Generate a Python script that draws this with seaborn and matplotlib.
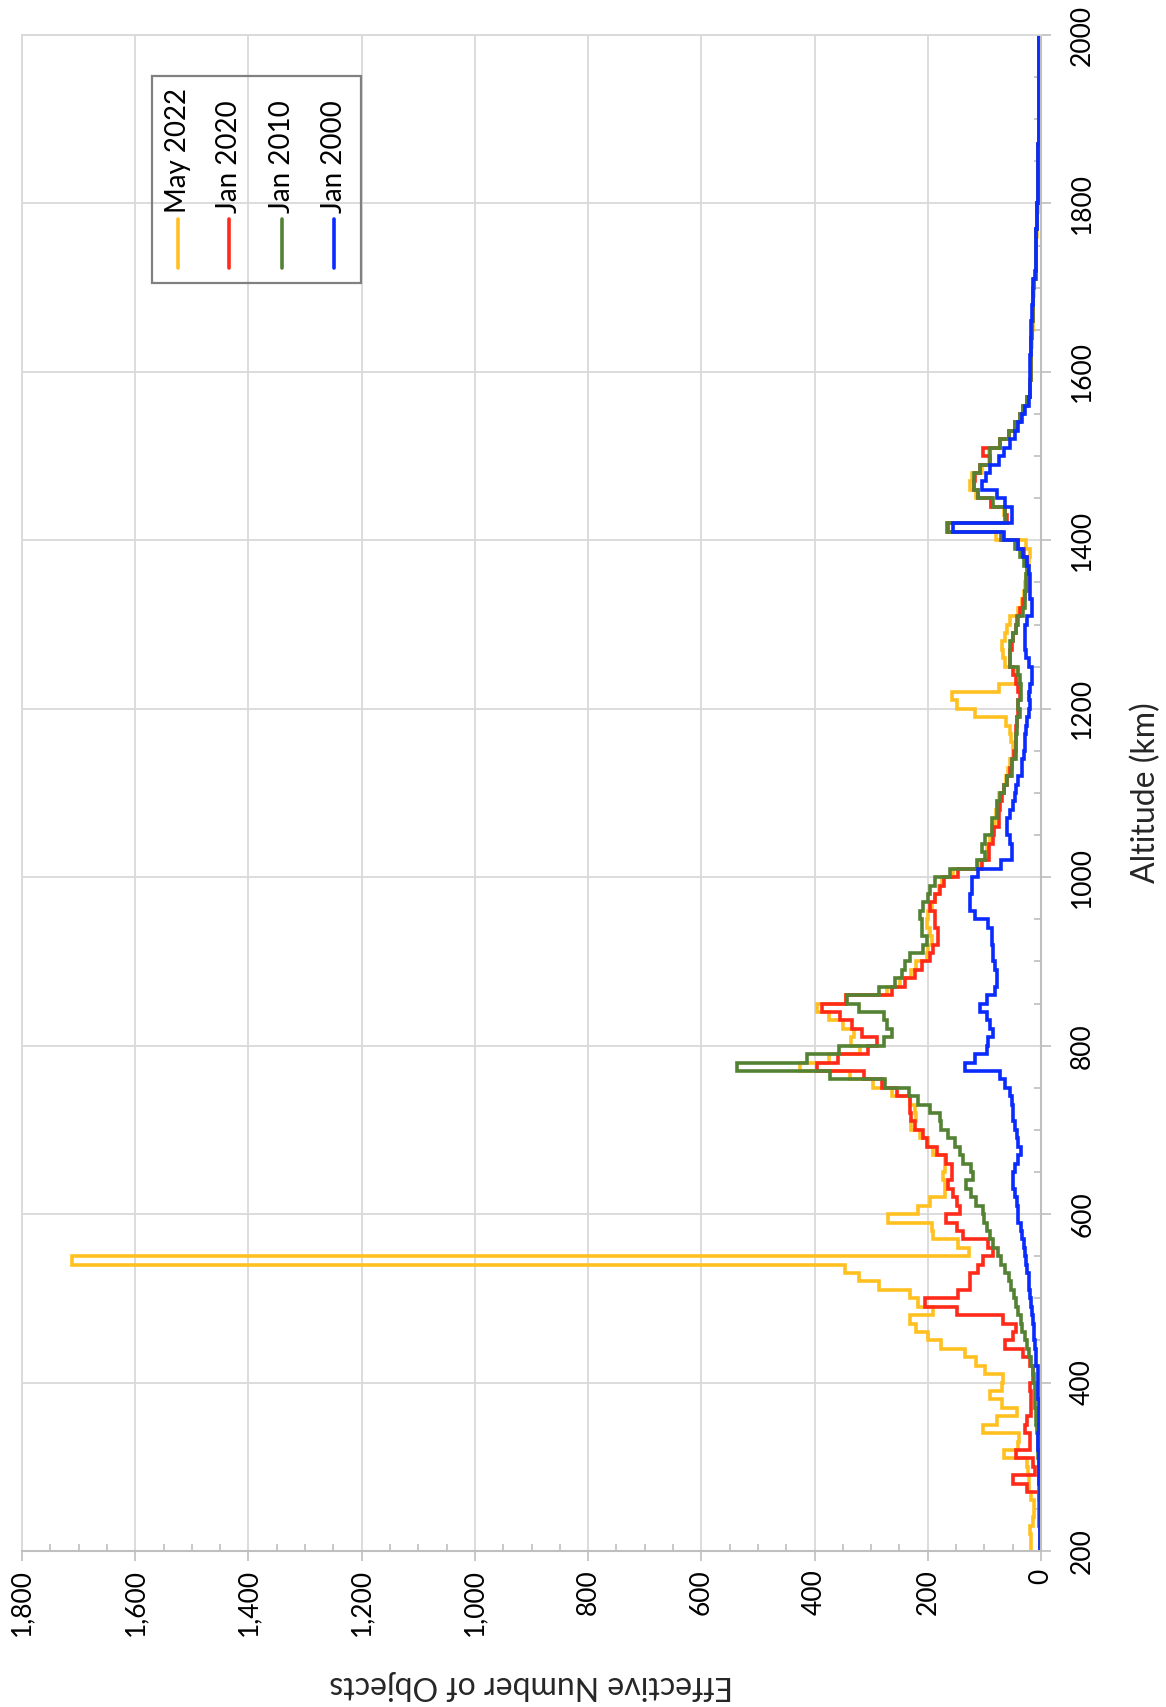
import matplotlib
matplotlib.use("Agg")
import matplotlib.pyplot as plt
import seaborn as sns
from matplotlib.patches import Rectangle
from matplotlib.lines import Line2D
from matplotlib.ticker import FuncFormatter, MultipleLocator

# ---------------- data (10 km altitude bins, 200..1990 km) ----------------
bin_start = list(range(200, 2000, 10))
alt_max = 2000

may_2022 = [
    17, 18, 20, 15, 12, 12, 17, 22, 22, 23,
    24, 65, 40, 38, 103, 78, 43, 69, 90, 69,
    67, 99, 114, 135, 176, 199, 220, 231, 190, 217,
    231, 287, 322, 346, 1712, 128, 146, 190, 193, 270,
    217, 196, 170, 170, 173, 170, 170, 190, 199, 214,
    229, 220, 223, 231, 264, 296, 337, 425, 375, 320,
    335, 330, 350, 375, 395, 345, 272, 249, 229, 220,
    202, 199, 193, 196, 202, 199, 193, 187, 181, 175,
    155, 110, 95, 95, 90, 87, 82, 80, 78, 75,
    66, 62, 58, 54, 50, 50, 53, 55, 62, 116,
    148, 158, 75, 43, 45, 63, 68, 69, 63, 60,
    55, 40, 33, 30, 28, 26, 24, 22, 20, 27,
    80, 165, 62, 65, 88, 115, 125, 122, 105, 92,
    92, 72, 57, 46, 37, 31, 25, 20, 19, 18,
    18, 17, 17, 16, 16, 15, 15, 14, 14, 13,
    13, 9, 9, 8, 8, 8, 7, 7, 7, 6,
    6, 6, 5, 5, 5, 5, 5, 4, 4, 4,
    4, 4, 4, 3, 3, 3, 3, 3, 3, 3,
]

jan_2020 = [
    2, 2, 2, 3, 3, 3, 3, 25, 49, 10,
    14, 44, 20, 20, 28, 24, 17, 17, 17, 20,
    14, 15, 19, 31, 64, 49, 45, 67, 149, 205,
    146, 125, 125, 111, 102, 84, 93, 137, 149, 167,
    143, 149, 155, 164, 158, 158, 167, 184, 202, 208,
    223, 229, 231, 231, 255, 281, 313, 396, 358, 305,
    290, 317, 334, 355, 387, 345, 263, 240, 223, 211,
    196, 190, 182, 182, 187, 187, 196, 187, 178, 172,
    146, 105, 92, 92, 85, 83, 75, 75, 72, 69,
    66, 60, 55, 51, 48, 45, 45, 44, 42, 40,
    40, 37, 40, 45, 49, 55, 55, 52, 49, 45,
    43, 37, 31, 28, 25, 24, 23, 25, 30, 40,
    70, 165, 60, 63, 88, 112, 119, 116, 107, 90,
    102, 72, 57, 46, 37, 31, 25, 20, 19, 18,
    18, 18, 17, 17, 16, 16, 15, 15, 14, 14,
    13, 9, 9, 9, 8, 8, 8, 7, 7, 7,
    6, 6, 6, 5, 5, 5, 5, 4, 4, 4,
    4, 4, 4, 3, 3, 3, 3, 3, 3, 3,
]

jan_2010 = [
    1, 1, 1, 2, 2, 2, 3, 3, 3, 4,
    4, 5, 5, 6, 7, 8, 9, 10, 10, 11,
    12, 15, 18, 21, 25, 29, 33, 36, 40, 44,
    48, 53, 57, 63, 70, 76, 84, 90, 96, 100,
    102, 114, 123, 132, 120, 123, 138, 143, 152, 164,
    176, 179, 196, 217, 234, 275, 373, 537, 414, 356,
    278, 263, 272, 278, 322, 343, 287, 258, 246, 240,
    231, 208, 202, 211, 211, 214, 208, 199, 196, 187,
    161, 113, 99, 104, 99, 87, 87, 78, 78, 72,
    66, 60, 51, 51, 45, 45, 45, 42, 42, 37,
    40, 36, 36, 37, 40, 55, 55, 55, 50, 45,
    40, 32, 29, 28, 27, 27, 25, 30, 37, 46,
    69, 166, 63, 63, 85, 112, 119, 119, 107, 90,
    90, 72, 57, 46, 37, 31, 25, 20, 19, 18,
    18, 18, 17, 17, 16, 16, 15, 15, 14, 14,
    13, 9, 9, 9, 8, 8, 8, 7, 7, 7,
    6, 6, 6, 5, 5, 5, 5, 4, 4, 4,
    4, 4, 4, 3, 3, 3, 3, 3, 3, 3,
]

jan_2000 = [
    2, 2, 2, 2, 2, 2, 2, 2, 3, 3,
    3, 4, 5, 5, 4, 4, 4, 4, 5, 5,
    5, 6, 8, 9, 11, 12, 13, 15, 16, 18,
    19, 21, 22, 24, 26, 28, 30, 33, 36, 40,
    40, 43, 46, 49, 49, 46, 40, 35, 40, 43,
    46, 49, 49, 52, 55, 64, 73, 134, 117, 96,
    93, 84, 90, 96, 108, 96, 81, 78, 78, 81,
    84, 84, 87, 87, 93, 117, 125, 125, 122, 122,
    111, 70, 52, 52, 55, 60, 60, 55, 49, 46,
    44, 40, 34, 33, 30, 28, 28, 27, 25, 22,
    20, 21, 19, 16, 16, 21, 27, 28, 29, 28,
    25, 16, 16, 19, 19, 20, 22, 25, 31, 40,
    66, 155, 52, 52, 63, 78, 104, 98, 90, 75,
    66, 55, 46, 40, 34, 28, 22, 19, 19, 19,
    19, 19, 18, 18, 17, 17, 16, 16, 15, 15,
    14, 10, 9, 9, 8, 8, 8, 7, 7, 7,
    6, 6, 6, 5, 5, 5, 5, 4, 4, 4,
    4, 4, 4, 3, 3, 3, 3, 3, 3, 3,
]

series_names = ["May 2022", "Jan 2020", "Jan 2010", "Jan 2000"]
series_values = [may_2022, jan_2020, jan_2010, jan_2000]
series_colors = ["#FFC020", "#FF2A1A", "#548235", "#0A2BFF"]

count_ticks = list(range(0, 1801, 200))
alt_ticks = list(range(200, 2001, 200))

# ---------------- figure ----------------
sns.set_theme(style="white")
plt.rcParams["font.family"] = ["Lato", "DejaVu Sans"]

W, H = 1166, 1707
fig = plt.figure(figsize=(W / 100, H / 100), dpi=100)
L, R, T, B = 22, 1041, 35, 1551
ax = fig.add_axes([L / W, 1 - B / H, (R - L) / W, (B - T) / H])

lw = 2.6
for name, vals, col in zip(series_names, series_values, series_colors):
    xs = list(vals) + [vals[-1]]
    ys = bin_start + [alt_max]
    sns.lineplot(x=xs, y=ys, orient="y", sort=True, estimator=None,
                 drawstyle="steps-pre", color=col, lw=lw, ax=ax,
                 legend=False, solid_joinstyle="miter")

ax.set_xlim(1800, 0)
ax.set_ylim(200, 2000)
ax.set_xticks(count_ticks)
ax.set_yticks(alt_ticks)
ax.xaxis.set_minor_locator(MultipleLocator(50))
ax.yaxis.set_minor_locator(MultipleLocator(50))
ax.xaxis.set_major_formatter(FuncFormatter(lambda v, p: f"{int(round(v)):,}"))
ax.yaxis.tick_right()

grid_col = "#d9d9d9"
axis_col = "#bfbfbf"
ax.grid(True, which="major", color=grid_col, lw=1.3)
ax.set_axisbelow(True)
for s in ["top", "left"]:
    ax.spines[s].set_color(grid_col)
    ax.spines[s].set_linewidth(1.3)
for s in ["bottom", "right"]:
    ax.spines[s].set_color(axis_col)
    ax.spines[s].set_linewidth(1.5)

ax.tick_params(axis="x", which="major", direction="out", length=7, width=1.2,
               color=axis_col, labelsize=19, labelcolor="black", pad=6,
               bottom=True, labelrotation=90)
ax.tick_params(axis="x", which="minor", direction="in", length=5, width=1.2,
               color=axis_col, bottom=True)
ax.tick_params(axis="y", which="major", direction="out", length=7, width=1.2,
               color=axis_col, labelsize=19, labelcolor="black", pad=14,
               right=True, left=False, labelrotation=90)
ax.tick_params(axis="y", which="minor", direction="in", length=5, width=1.2,
               color=axis_col, right=True, left=False)
for lab in ax.get_yticklabels():
    lab.set_va("center")
    lab.set_ha("left")
for lab in ax.get_xticklabels():
    lab.set_va("top")
    lab.set_ha("center")

ax.set_xlabel("Effective Number of Objects", fontsize=23, rotation=180)
ax.xaxis.set_label_coords(0.5, (B - 1685) / (B - T))
ax.xaxis.label.set_va("center")
ax.xaxis.label.set_ha("center")
ax.yaxis.set_label_position("right")
ax.set_ylabel("Altitude (km)", fontsize=23, rotation=90)
ax.yaxis.set_label_coords((1146 - L) / (R - L), 0.5)
ax.yaxis.label.set_va("center")
ax.yaxis.label.set_ha("center")

# ---------------- legend (rotated, drawn by hand) ----------------
def ax_x(px):
    return (px - L) / (R - L)

def ax_y(py):
    return (B - py) / (B - T)

ax.add_patch(Rectangle((ax_x(152), ax_y(283)), ax_x(361) - ax_x(152),
                       ax_y(76) - ax_y(283), transform=ax.transAxes,
                       fill=False, edgecolor="#808080", lw=1.6, zorder=5))
leg_x = [178, 229, 282, 334]
for px, name, col in zip(leg_x, series_names, series_colors):
    ax.text(ax_x(px), ax_y(213), name, rotation=90, ha="center", va="bottom",
            fontsize=20, color="black", transform=ax.transAxes, zorder=6)
    ax.add_line(Line2D([ax_x(px), ax_x(px)], [ax_y(268), ax_y(219)],
                       transform=ax.transAxes, color=col, lw=lw,
                       solid_capstyle="round", zorder=6))

fig.savefig("out.png", dpi=100)
